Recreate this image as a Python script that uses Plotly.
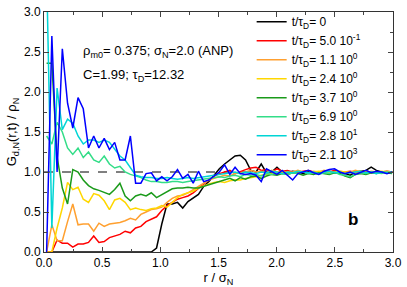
import numpy as np
import plotly.graph_objects as go

# bin centres r/sigma_N
r = np.round(0.0225 + 0.045 * np.arange(67), 4)

g_black = [0]*21 + [0.05, 0.35, 0.6, 0.6, 0.62, 0.55, 0.63, 0.67, 0.72, 0.82, 0.88, 0.96, 1.04, 1.1, 1.15, 1.2, 1.21, 1.15, 1.02, 1.0, 1.1, 0.99, 1.0, 1.06, 1.0, 0.99, 1.01, 1.0, 0.98, 1.01, 1.0, 0.99, 1.0, 1.01, 0.99, 1.0, 0.98, 0.96, 1.0, 1.01, 1.02, 1.06, 1.02, 1.0, 0.99, 1.0]
g_red = [0.0, 0.0, 0.15, 0.11, 0.11, 0.06, 0.1, 0.1, 0.12, 0.2, 0.12, 0.13, 0.18, 0.2, 0.22, 0.26, 0.24, 0.3, 0.32, 0.38, 0.41, 0.44, 0.52, 0.58, 0.62, 0.66, 0.68, 0.7, 0.74, 0.8, 0.85, 0.9, 0.95, 0.98, 1.0, 1.02, 0.98, 1.01, 1.03, 1.05, 1.06, 1.02, 1.03, 1.0, 1.04, 1.01, 1.02, 1.0, 0.99, 1.01, 1.02, 1.0, 0.99, 1.01, 1.0, 1.02, 0.99, 1.0, 1.01, 0.99, 1.0, 1.01, 1.0, 0.99, 1.0, 1.01, 1.0]
g_orange = [0.0, 0.34, 0.14, 0.14, 0.38, 0.6, 0.34, 0.35, 0.35, 0.26, 0.36, 0.32, 0.35, 0.36, 0.37, 0.39, 0.42, 0.4, 0.47, 0.5, 0.53, 0.54, 0.56, 0.62, 0.67, 0.7, 0.71, 0.74, 0.78, 0.82, 0.86, 0.9, 0.92, 0.94, 0.96, 0.95, 0.98, 0.99, 1.0, 1.02, 1.0, 1.01, 0.99, 1.02, 1.0, 1.01, 0.99, 1.0, 1.02, 1.0, 0.99, 1.01, 1.0, 1.02, 1.0, 0.99, 1.01, 1.0, 1.0, 1.02, 1.0, 0.99, 1.01, 1.0, 1.0, 1.01, 1.0]
g_yellow = [0.0, 0.0, 0.3, 0.55, 0.87, 0.78, 0.81, 0.66, 0.62, 0.73, 0.71, 0.64, 0.53, 0.65, 0.67, 0.62, 0.53, 0.55, 0.53, 0.52, 0.54, 0.55, 0.58, 0.56, 0.62, 0.68, 0.72, 0.74, 0.76, 0.8, 0.83, 0.85, 0.87, 0.88, 0.87, 0.89, 0.9, 0.9, 0.92, 0.93, 0.94, 0.96, 0.97, 0.98, 0.97, 0.99, 1.0, 0.99, 1.01, 1.0, 0.99, 1.0, 1.01, 1.0, 0.99, 1.0, 1.01, 1.0, 0.99, 1.0, 1.01, 1.0, 0.99, 1.0, 1.01, 1.0, 1.0]
g_green = [2.36, 2.36, 1.19, 0.8, 0.6, 1.03, 1.0, 0.9, 0.83, 0.79, 0.77, 0.74, 0.72, 0.78, 0.86, 0.7, 0.64, 0.7, 0.72, 0.7, 0.74, 0.68, 0.72, 0.75, 0.79, 0.8, 0.8, 0.81, 0.8, 0.8, 0.82, 0.84, 0.86, 0.88, 0.9, 0.92, 0.89, 0.93, 0.91, 0.94, 0.95, 0.92, 0.95, 0.97, 0.96, 0.98, 0.97, 0.99, 0.98, 0.96, 0.98, 0.97, 0.99, 0.98, 0.97, 0.99, 0.98, 0.95, 0.93, 0.97, 0.98, 0.97, 0.99, 0.98, 1.0, 0.99, 0.98]
g_mint = [1.45, 1.35, 1.62, 1.5, 1.3, 1.22, 1.3, 1.18, 1.25, 1.15, 1.12, 1.2, 1.1, 1.05, 1.07, 1.0, 0.97, 0.95, 0.93, 0.9, 0.88, 0.88, 0.87, 0.87, 0.88, 0.88, 0.87, 0.88, 0.89, 0.9, 0.91, 0.92, 0.93, 0.94, 0.93, 0.95, 0.96, 0.94, 0.97, 0.96, 0.97, 0.95, 0.98, 0.97, 0.99, 0.98, 0.97, 0.99, 0.98, 1.0, 0.98, 0.99, 0.97, 0.99, 0.98, 1.0, 0.97, 0.96, 0.94, 0.97, 0.99, 0.98, 1.0, 0.99, 0.98, 1.0, 0.99]
g_cyan = [3.5, 0.3, 2.05, 1.53, 1.66, 1.61, 1.45, 1.35, 1.4, 1.4, 1.37, 1.4, 1.37, 1.28, 1.2, 1.15, 1.05, 0.96, 0.94, 0.93, 0.93, 0.92, 0.92, 0.93, 0.92, 0.91, 0.92, 0.93, 0.92, 0.93, 0.94, 0.95, 0.96, 0.97, 0.98, 0.99, 1.0, 0.98, 1.0, 0.99, 0.98, 1.0, 0.99, 1.01, 1.0, 0.98, 1.0, 0.99, 1.01, 1.0, 0.99, 1.0, 0.98, 1.0, 1.01, 0.99, 1.0, 0.98, 0.99, 1.0, 1.01, 0.99, 1.0, 0.98, 1.0, 0.99, 1.0]
g_blue = [0.0, 2.7, 1.0, 2.54, 1.86, 1.55, 1.93, 1.79, 1.3, 1.45, 1.3, 1.42, 1.28, 1.37, 1.15, 1.15, 1.45, 0.86, 0.86, 0.98, 0.99, 0.89, 0.94, 0.89, 0.94, 1.03, 0.92, 0.97, 0.86, 1.01, 0.88, 0.9, 0.95, 1.0, 1.09, 0.97, 1.06, 0.98, 0.97, 0.98, 0.96, 0.88, 1.04, 1.0, 0.97, 1.02, 0.96, 0.9, 0.98, 1.0, 1.02, 0.99, 0.97, 1.01, 1.03, 1.04, 1.0, 0.98, 1.0, 0.97, 1.0, 1.02, 0.99, 1.01, 1.0, 0.98, 1.0]

labels = [
    "t/τ<sub>D</sub>= 0",
    "t/τ<sub>D</sub>= 5.0 10<sup>-1</sup>",
    "t/τ<sub>D</sub>= 1.1 10<sup>0</sup>",
    "t/τ<sub>D</sub>= 2.4 10<sup>0</sup>",
    "t/τ<sub>D</sub>= 3.7 10<sup>0</sup>",
    "t/τ<sub>D</sub>= 6.9 10<sup>0</sup>",
    "t/τ<sub>D</sub>= 2.8 10<sup>1</sup>",
    "t/τ<sub>D</sub>= 2.1 10<sup>3</sup>",
]
series = [g_black, g_red, g_orange, g_yellow, g_green, g_mint, g_cyan, g_blue]
colors = ["#000000", "#ff0000", "#ffa030", "#ffd700", "#1a9a1a", "#33dd88", "#00d5d5", "#0000ff"]

FONT = "Liberation Sans, Arial, sans-serif"

fig = go.Figure()
for i, (lab, ys, col) in enumerate(zip(labels, series, colors)):
    fig.add_trace(go.Scatter(x=r, y=ys, mode="lines", name=lab, legendgroup=f"g{i}",
                             line=dict(color=col, width=1.5)))

fig.add_shape(type="line", xref="x", yref="y", x0=0, x1=3, y0=1, y1=1,
              line=dict(color="black", width=1, dash="dash"), layer="below")

axis_common = dict(
    range=[0, 3], dtick=0.5, tick0=0, tickformat=".1f",
    ticks="inside", ticklen=5, tickwidth=1, tickcolor="#444",
    showline=True, linecolor="#333", linewidth=1, mirror="allticks",
    showgrid=False, zeroline=False,
    tickfont=dict(family=FONT, size=12, color="black"),
    minor=dict(ticks="inside", ticklen=3, dtick=0.25, tickcolor="#444", showgrid=False),
)

fig.update_layout(
    width=407, height=287,
    margin=dict(l=44, r=10, t=5, b=34),
    paper_bgcolor="white", plot_bgcolor="white",
    font=dict(family=FONT, size=12, color="black"),
    xaxis=dict(**axis_common, title=dict(text="r / σ<sub>N</sub>", font=dict(size=13), standoff=2)),
    yaxis=dict(**axis_common, title=dict(text="G<sub>d,N</sub>(r,t) / ρ<sub>N</sub>", font=dict(size=13), standoff=4)),
    legend=dict(x=0.595, y=1.02, xanchor="left", yanchor="top", maxheight=1,
                bgcolor="rgba(255,255,255,0)", borderwidth=0, tracegroupgap=0,
                font=dict(family=FONT, size=12), itemwidth=30),
    showlegend=True,
)

fig.add_annotation(x=0.105, y=0.835, xref="paper", yref="paper", xanchor="left", yanchor="middle",
                   text="ρ<sub>m0</sub>= 0.375; σ<sub>N</sub>=2.0 (ANP)", showarrow=False,
                   font=dict(family=FONT, size=13))
fig.add_annotation(x=0.105, y=0.735, xref="paper", yref="paper", xanchor="left", yanchor="middle",
                   text="C=1.99; τ<sub>D</sub>=12.32", showarrow=False,
                   font=dict(family=FONT, size=13))
fig.add_annotation(x=2.66, y=0.41, xref="x", yref="y", text="<b>b</b>", showarrow=False,
                   font=dict(family=FONT, size=17))

fig.write_html("out.html", config={"displayModeBar": False},
               post_script="document.body.style.margin='0';document.body.style.overflow='hidden';")
